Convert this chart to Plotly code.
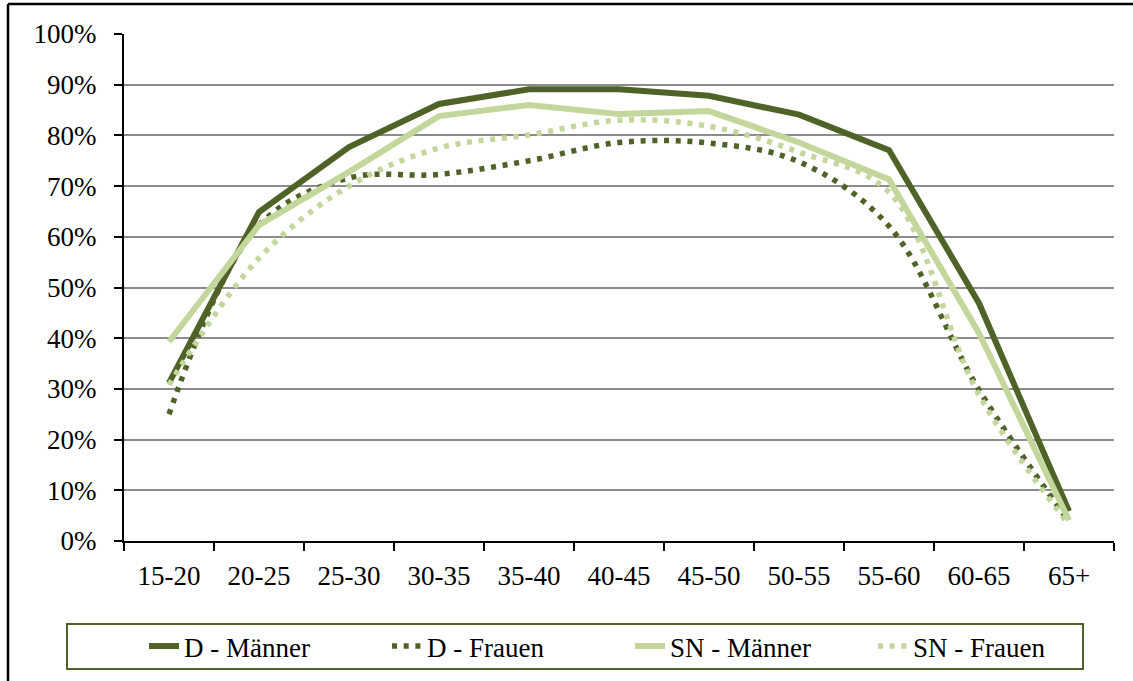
import plotly.graph_objects as go

categories = ["15-20", "20-25", "25-30", "30-35", "35-40", "40-45",
              "45-50", "50-55", "55-60", "60-65", "65+"]
d_maenner = [0.312, 0.649, 0.777, 0.862, 0.891, 0.891, 0.878, 0.841, 0.771, 0.469, 0.059]
d_frauen = [0.250, 0.623, 0.716, 0.723, 0.750, 0.786, 0.785, 0.748, 0.621, 0.298, 0.038]
sn_maenner = [0.393, 0.623, 0.728, 0.838, 0.860, 0.842, 0.848, 0.786, 0.713, 0.410, 0.041]
sn_frauen = [0.308, 0.558, 0.700, 0.775, 0.801, 0.830, 0.818, 0.767, 0.688, 0.288, 0.032]

DARK = "#4F6228"
LIGHT = "#C3D69B"
FONT = "Liberation Serif"
FS = 27

W, H = 1133, 681
L, R, T, B = 124, 19, 34, 140
PW, PH = W - L - R, H - T - B


def px_x(px):
    return (px - L) / PW


def px_y(py):
    return (H - B - py) / PH


DOT = "5px,6.7px"

fig = go.Figure()
fig.add_trace(go.Scatter(x=categories, y=d_maenner, name="D - Männer", mode="lines",
                         line=dict(color=DARK, width=6)))
fig.add_trace(go.Scatter(x=categories, y=d_frauen, name="D - Frauen", mode="lines",
                         line=dict(color=DARK, width=5.5, dash=DOT, shape="spline")))
fig.add_trace(go.Scatter(x=categories, y=sn_maenner, name="SN - Männer", mode="lines",
                         line=dict(color=LIGHT, width=6)))
fig.add_trace(go.Scatter(x=categories, y=sn_frauen, name="SN - Frauen", mode="lines",
                         line=dict(color=LIGHT, width=5.5, dash=DOT, shape="spline")))

fig.update_layout(
    width=W, height=H,
    margin=dict(l=L, r=R, t=T, b=B, autoexpand=False),
    paper_bgcolor="white", plot_bgcolor="white",
    font=dict(family=FONT, size=FS, color="black"),
    showlegend=True,
    legend=dict(orientation="h", x=px_x(630), xanchor="center",
                y=px_y(646.5), yanchor="middle",
                bgcolor="rgba(0,0,0,0)", borderwidth=0,
                entrywidth=198, entrywidthmode="pixels",
                font=dict(family=FONT, size=FS, color="black")),
    xaxis=dict(type="category", range=[-0.5, 10.5], tickson="boundaries",
               ticks="outside", ticklen=8, tickwidth=2, tickcolor="black",
               showline=True, linecolor="black", linewidth=2,
               showgrid=False, zeroline=False, ticklabelstandoff=10,
               tickfont=dict(family=FONT, size=FS, color="black")),
    yaxis=dict(range=[0, 1], dtick=0.1, tickformat=".0%",
               ticks="outside", ticklen=8, tickwidth=2, tickcolor="black",
               showline=True, linecolor="black", linewidth=2,
               showgrid=True, gridcolor="#8C8C8C", gridwidth=2,
               zeroline=False, ticklabelstandoff=12,
               tickfont=dict(family=FONT, size=FS, color="black")),
)

# outer frame (cropped box around the figure)
fig.add_shape(type="line", xref="paper", yref="paper",
              x0=px_x(8), x1=px_x(1140), y0=px_y(4), y1=px_y(4),
              line=dict(color="black", width=2.5))
fig.add_shape(type="line", xref="paper", yref="paper",
              x0=px_x(8), x1=px_x(8), y0=px_y(4), y1=px_y(690),
              line=dict(color="black", width=2.5))
# legend box
fig.add_shape(type="rect", xref="paper", yref="paper",
              x0=px_x(67), x1=px_x(1083), y0=px_y(624), y1=px_y(669),
              line=dict(color=DARK, width=2), fillcolor="rgba(0,0,0,0)")

fig.write_html("out.html",
               config={"displayModeBar": False},
               post_script="document.body.style.margin='0';document.body.style.padding='0';")
